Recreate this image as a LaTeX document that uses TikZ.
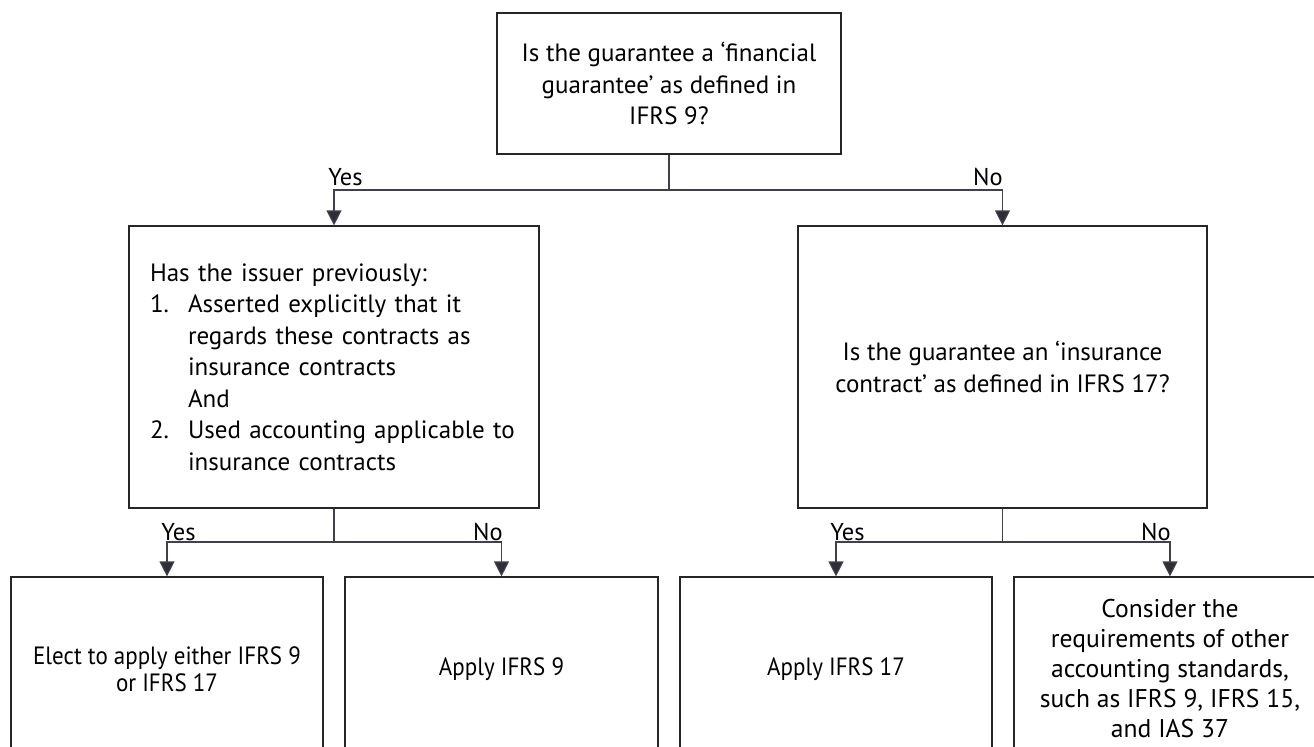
\documentclass[tikz,border=0pt]{standalone}
\usepackage{fontspec}
\setmainfont{PT Sans}
\newfontfamily\estreita[FakeStretch=0.92]{PT Sans}
\usetikzlibrary{arrows.meta}
\definecolor{linha}{HTML}{404048}
\definecolor{seta}{HTML}{2E2E38}
\tikzset{
  caixa/.style={draw=black!85, line width=0.6pt, align=center, inner sep=0pt,
    font=\fontsize{12.5}{15.75}\selectfont},
  conector/.style={draw=linha, line width=0.6pt,
    -{Triangle[width=7.5pt,length=7.5pt,fill=seta]}},
  rotulo/.style={font=\fontsize{12.2}{14}\selectfont, inner sep=0pt},
}
\begin{document}
\begin{tikzpicture}[x=0.5pt,y=-0.5pt]
        \useasboundingbox (0,0) rectangle (1314,746);
        \clip (0,0) rectangle (1314,746);

        % Perguntas
        \node[caixa, minimum width=172pt, minimum height=70.5pt] (q1) at (669,83.5)
            {Is the guarantee a ‘financial\\guarantee’ as defined in\\IFRS 9?};
        \node[caixa, minimum width=205pt, minimum height=141pt, text width=184pt, align=left] (q2) at (334,367)
            {Has the issuer previously:\\
             \makebox[19pt][l]{1.}Asserted explicitly that it\\
             \hspace*{19pt}regards these contracts as\\
             \hspace*{19pt}insurance contracts\\
             \hspace*{19pt}And\\
             \makebox[19pt][l]{2.}Used accounting applicable to\\
             \hspace*{19pt}insurance contracts};
        \node[caixa, minimum width=204.5pt, minimum height=141pt] (q3) at (1002.5,367)
            {Is the guarantee an ‘insurance\\contract’ as defined in IFRS 17?};

        % Respostas
        \node[caixa, minimum width=156pt, minimum height=92pt, font=\estreita\fontsize{12.5}{13.5}\selectfont] (r1) at (167,669)
            {Elect to apply either IFRS 9\\or IFRS 17};
        \node[caixa, minimum width=156.5pt, minimum height=92pt, font=\estreita\fontsize{12.5}{13.5}\selectfont] (r2) at (501.5,669)
            {Apply IFRS 9};
        \node[caixa, minimum width=156pt, minimum height=92pt, font=\estreita\fontsize{12.5}{13.5}\selectfont] (r3) at (836,669)
            {Apply IFRS 17};
        \node[caixa, minimum width=156pt, minimum height=92pt, font=\fontsize{12.8}{15}\selectfont] (r4) at (1170,669)
            {Consider the\\requirements of other\\accounting standards,\\such as IFRS 9, IFRS 15,\\and IAS 37};

        % Ligacoes
        \coordinate (b1) at (669,190);
        \coordinate (b2) at (334,542);
        \coordinate (b3) at (1002.5,542);
        \draw[conector] (q1.south) -- (b1) -| (q2.north);
        \draw[conector] (b1) -| (q3.north);
        \draw[conector] (q2.south) -- (b2) -| (r1.north);
        \draw[conector] (b2) -| (r2.north);
        \draw[conector] (q3.south) -- (b3) -| (r3.north);
        \draw[conector] (b3) -| (r4.north);

        % Sim / Nao
        \node[rotulo, anchor=base west] (s1) at (328,185) {Yes};
        \node[rotulo, anchor=base east] (n1) at (1003,185) {No};
        \node[rotulo, anchor=base west] (s2) at (161,540) {Yes};
        \node[rotulo, anchor=base east] (n2) at (503,540) {No};
        \node[rotulo, anchor=base west] (s3) at (830,540) {Yes};
        \node[rotulo, anchor=base east] (n3) at (1171,540) {No};

    \end{tikzpicture}
\end{document}
